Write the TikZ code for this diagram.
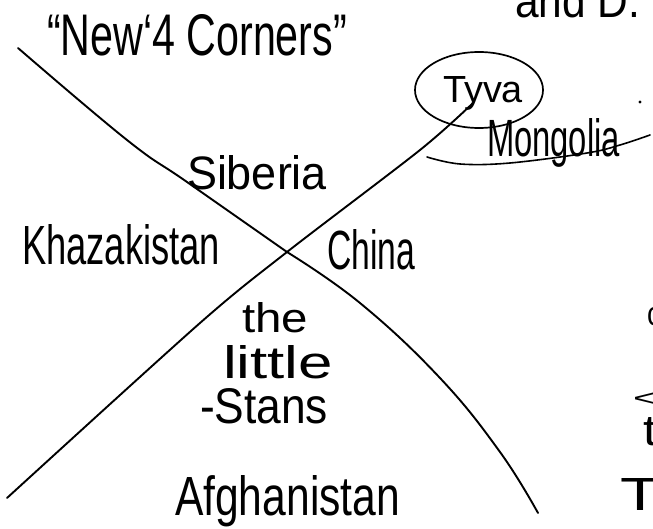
\documentclass[tikz,border=0pt]{standalone}
\usepackage{fontspec}
\setmainfont{Liberation Sans}
\usepackage{graphicx}
\usetikzlibrary{shapes.geometric}
\newcommand\hwtext[3]{\resizebox{#1pt}{#2pt}{#3}}
\tikzset{
  lbl/.style={inner sep=0pt, outer sep=0pt, anchor=base west, text=black},
  pen/.style={line width=1.9pt, line cap=round, line join=round, draw=black},
  ring/.style={draw=black, line width=1.7pt, ellipse, minimum width=128pt, minimum height=76pt, inner sep=0pt}
}
\begin{document}
\begin{tikzpicture}[x=1pt,y=-1pt]
\useasboundingbox (0,0) rectangle (653,529);
\clip (0,0) rectangle (653,529);
\fill[white] (0,0) rectangle (653,529);

% texts
\node[lbl] (title) at (47,56) {\hwtext{300}{41}{\textquotedblleft New\textquoteleft 4 Corners\textquotedblright}};
\node[lbl] (topfrag) at (515,18) {\hwtext{125}{34}{and D.}};
\node[lbl] (tyva) at (443,103) {\hwtext{80}{26}{Tyva}};
\node[lbl] (mongolia) at (487,157) {\hwtext{133}{38}{Mongolia}};
\node[lbl] (siberia) at (187,190) {\hwtext{140}{34}{Siberia}};
\node[lbl] (khaz) at (22,265) {\hwtext{198}{40}{Khazakistan}};
\node[lbl] (china) at (327,270) {\hwtext{88}{40}{China}};
\node[lbl] (the) at (242,332) {\hwtext{66}{30}{the}};
\node[lbl] (little) at (223,378) {\hwtext{110}{33}{little}};
\node[lbl] (stans) at (200,423) {\hwtext{128}{35}{-Stans}};
\node[lbl] (afgh) at (175,515) {\hwtext{225}{40}{Afghanistan}};
% cut-off letters at the right edge
\node[lbl] (fragc) at (647,325) {\hwtext{14}{18}{c}};
\node[lbl] (fraglt) at (633,406) {\hwtext{24}{14}{<}};
\node[lbl] (fragt) at (643,445) {\hwtext{14}{28}{t}};
\node[lbl] (fragT) at (620,510) {\hwtext{40}{32}{T}};

% circle around Tyva
\node[ring] (tyvaring) at (479,90) {};

% coordinates of the cross
\coordinate (tl) at (18,48);
\coordinate (tl1) at (127,140);
\coordinate (tl2) at (187,182);
\coordinate (cross) at (287,252);
\coordinate (br1) at (360,303);
\coordinate (br2) at (440,378);
\coordinate (br3) at (500,452);
\coordinate (br) at (538,513);
\coordinate (bl) at (7,498);
\coordinate (bl1) at (200,323);
\coordinate (tr1) at (420,150);
\coordinate (tr) at (473,103);

\draw[pen] plot[smooth, tension=0.7] coordinates {(tl) (tl1) (tl2) (cross)};
\draw[pen] plot[smooth, tension=0.7] coordinates {(cross) (br1) (br2) (br3) (br)};
\draw[pen] plot[smooth, tension=0.5] coordinates {(bl) (bl1) (cross) (tr1) (tr)};

% underline of Mongolia
\coordinate (u0) at (427,157);
\coordinate (u1) at (460,164);
\coordinate (u2) at (510,163);
\coordinate (u3) at (587,153);
\coordinate (u4) at (620,145);
\coordinate (u5) at (650,135);
\draw[pen, line width=1.6pt] plot[smooth, tension=0.6] coordinates {(u0) (u1) (u2) (u3) (u4) (u5)};

% stray dot
\fill[black] (640,102) circle (1.6);
\end{tikzpicture}
\end{document}
